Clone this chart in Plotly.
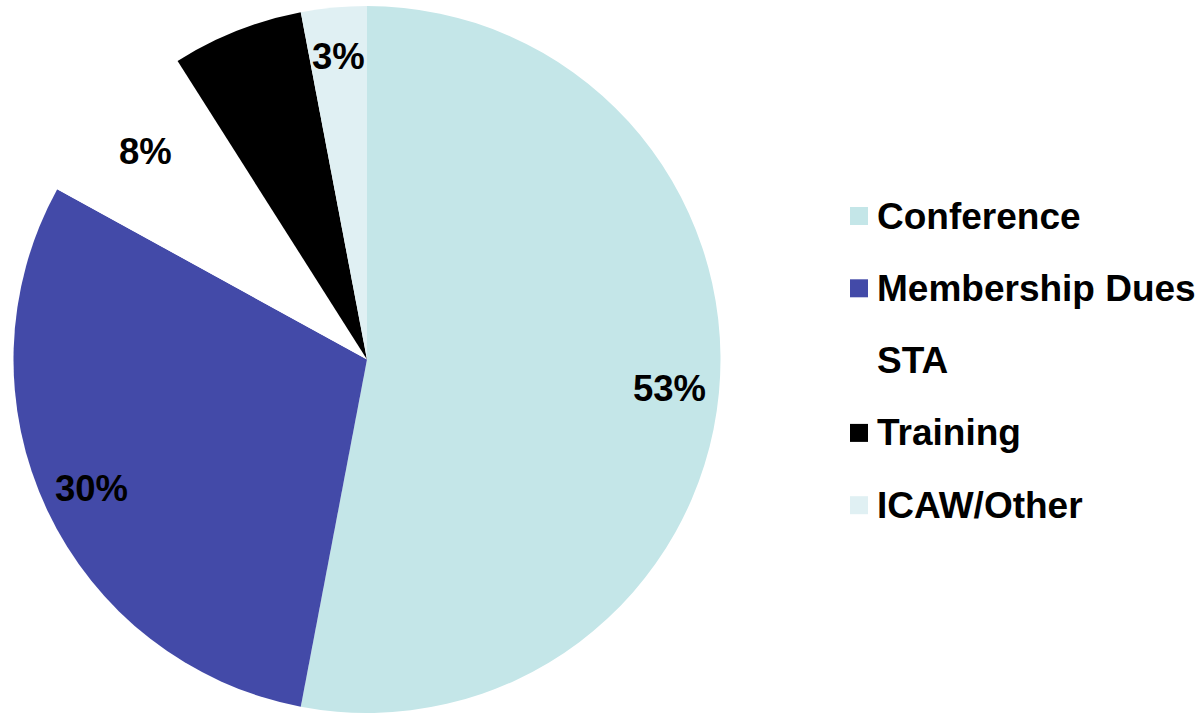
import math
import plotly.graph_objects as go

categories = ["Conference", "Membership Dues", "STA", "Training", "ICAW/Other"]
values = [53, 30, 8, 6, 3]
colors = ["#C4E6E8", "#434AA8", "#FFFFFF", "#000000", "#E0F0F3"]

W, H = 1201, 713
FONT = "Liberation Sans, Arial, sans-serif"

# pie geometry (pixels)
top_px, bot_px = 6, 713
cx_px = 367
R_px = (bot_px - top_px) / 2
cy_px = (bot_px + top_px) / 2

fig = go.Figure()
fig.add_trace(go.Pie(
    labels=categories,
    values=values,
    sort=False,
    direction="clockwise",
    rotation=0,
    marker=dict(colors=colors, line=dict(width=0)),
    textinfo="none",
    domain=dict(x=[(cx_px - R_px) / W, (cx_px + R_px) / W], y=[1 - bot_px / H, 1 - top_px / H]),
    showlegend=False,
    hoverinfo="label+percent",
))

# percentage labels placed near the rim of each slice, derived from the values
annos = []
total = sum(values)
cum = 0.0
for v in values:
    mid = (cum + v / 2) / total * 2 * math.pi
    cum += v
    r = 0.86 * R_px
    x = cx_px + r * math.sin(mid)
    y = cy_px - r * math.cos(mid)
    annos.append(dict(text=f"<b>{round(100 * v / total)}%</b>", xref="paper", yref="paper",
                      x=x / W, y=1 - y / H, xanchor="center", yanchor="middle",
                      showarrow=False, font=dict(family=FONT, size=36.5, color="#000000")))

# manual legend (spacing larger than plotly's native legend allows)
leg_x0, leg_sq, leg_y0, leg_dy = 850, 18, 216, 72.3
shapes = []
for i, (cat, col) in enumerate(zip(categories, colors)):
    yc = leg_y0 + i * leg_dy
    shapes.append(dict(type="rect", xref="paper", yref="paper",
                       x0=leg_x0 / W, x1=(leg_x0 + leg_sq) / W,
                       y0=1 - (yc + leg_sq / 2) / H, y1=1 - (yc - leg_sq / 2) / H,
                       fillcolor=col, line=dict(width=0)))
    annos.append(dict(text=f"<b>{cat}</b>", xref="paper", yref="paper",
                      x=(leg_x0 + 25) / W, y=1 - yc / H, xanchor="left", yanchor="middle",
                      showarrow=False, font=dict(family=FONT, size=37, color="#000000")))

fig.update_layout(
    width=W, height=H,
    margin=dict(l=0, r=0, t=0, b=0),
    paper_bgcolor="white", plot_bgcolor="white",
    shapes=shapes, annotations=annos,
)

fig.write_html("out.html", config={"displayModeBar": False},
               post_script="document.body.style.margin='0';")
